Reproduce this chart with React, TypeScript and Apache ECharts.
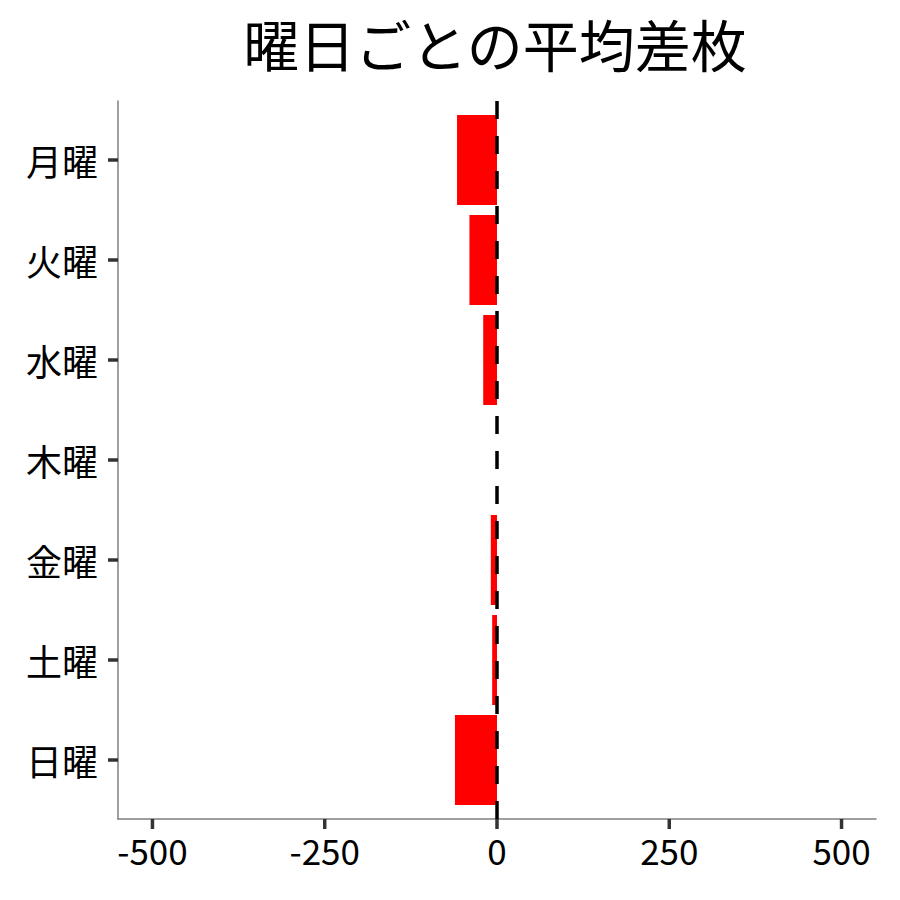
import { useEffect, useRef } from 'react'
import * as echarts from 'echarts'

const days = ['月曜', '火曜', '水曜', '木曜', '金曜', '土曜', '日曜']
const avgDiff = [-58, -40, -20, 0, -9, -7, -61]
const xTicks = [-500, -250, 0, 250, 500]
const xMin = -550
const xMax = 550
const tickMin = -500
const tickMax = 500
const tickStep = 250

const FONT = '"Noto Sans CJK JP", "Noto Sans", sans-serif'

// panel edges in px (ggplot-like expanded panel)
const PANEL_LEFT = 118
const PANEL_RIGHT = 24
const PANEL_W = 900 - PANEL_LEFT - PANEL_RIGHT
const pxPerUnit = PANEL_W / (xMax - xMin)

export default function App() {
  const chartRef = useRef<HTMLDivElement | null>(null)

  useEffect(() => {
    if (!chartRef.current) {
      return undefined
    }

    const chart = echarts.init(chartRef.current, undefined, { renderer: 'svg' })

    chart.setOption({
      animation: false,
      backgroundColor: '#ffffff',
      title: {
        text: '曜日ごとの平均差枚',
        left: 490,
        textAlign: 'center',
        top: 9,
        textStyle: { fontFamily: FONT, fontSize: 56, fontWeight: 'normal', color: '#000000' },
      },
      grid: [
        { left: PANEL_LEFT, right: PANEL_RIGHT, top: 101, bottom: 81 },
        { left: PANEL_LEFT, right: PANEL_RIGHT, top: 110, bottom: 90 },
        {
          left: PANEL_LEFT + (tickMin - xMin) * pxPerUnit,
          right: PANEL_RIGHT + (xMax - tickMax) * pxPerUnit,
          top: 101,
          bottom: 81,
        },
      ],
      xAxis: [
        {
          type: 'value',
          gridIndex: 0,
          min: xMin,
          max: xMax,
          axisLine: { show: true, onZero: false, lineStyle: { color: '#7f7f7f', width: 1.5 } },
          axisTick: { show: false },
          axisLabel: { show: false },
          splitLine: { show: false },
        },
        {
          type: 'value',
          gridIndex: 1,
          min: xMin,
          max: xMax,
          show: false,
        },
        {
          type: 'value',
          gridIndex: 2,
          min: tickMin,
          max: tickMax,
          interval: tickStep,
          axisLine: { show: false, onZero: false },
          axisTick: { show: false },
          axisLabel: { show: true, margin: 13, fontSize: 35, color: '#000000', fontFamily: FONT },
          splitLine: { show: false },
        },
      ],
      yAxis: [
        {
          type: 'value',
          gridIndex: 0,
          min: 0,
          max: 1,
          axisLine: { show: true, onZero: false, lineStyle: { color: '#7f7f7f', width: 1.5 } },
          axisTick: { show: false },
          axisLabel: { show: false },
          splitLine: { show: false },
        },
        {
          type: 'category',
          gridIndex: 1,
          data: days,
          inverse: true,
          axisLine: { show: false, onZero: false },
          axisTick: { show: true, alignWithLabel: true, length: 10, lineStyle: { color: '#333333', width: 3.5 } },
          axisLabel: { margin: 20, fontSize: 36, color: '#000000', fontFamily: FONT },
          splitLine: { show: false },
        },
        {
          type: 'value',
          gridIndex: 2,
          min: 0,
          max: 1,
          show: false,
        },
      ],
      series: [
        {
          name: '平均差枚',
          type: 'bar',
          xAxisIndex: 1,
          yAxisIndex: 1,
          data: avgDiff,
          barWidth: '90%',
          itemStyle: { color: '#ff0000' },
        },
        {
          name: 'zero',
          type: 'line',
          xAxisIndex: 0,
          yAxisIndex: 0,
          data: [],
          markLine: {
            silent: true,
            symbol: ['none', 'none'],
            label: { show: false },
            lineStyle: { color: '#000000', type: [18, 17], width: 3.5 },
            data: [{ xAxis: 0 }],
          },
        },
      ],
    })

    // x-axis tick marks: positions come from the axis scale via convertToPixel
    const baseY = chart.convertToPixel({ yAxisIndex: 0 }, 0) as number
    chart.setOption({
      graphic: xTicks.map((v) => {
        const x = chart.convertToPixel({ xAxisIndex: 0 }, v) as number
        return {
          type: 'rect',
          z: 100,
          silent: true,
          shape: { x: x - 1.75, y: baseY, width: 3.5, height: 10 },
          style: { fill: '#333333' },
        }
      }),
    })

    return () => {
      chart.dispose()
    }
  }, [])

  return <div ref={chartRef} style={{ width: 900, height: 900, margin: -8 }} />
}
